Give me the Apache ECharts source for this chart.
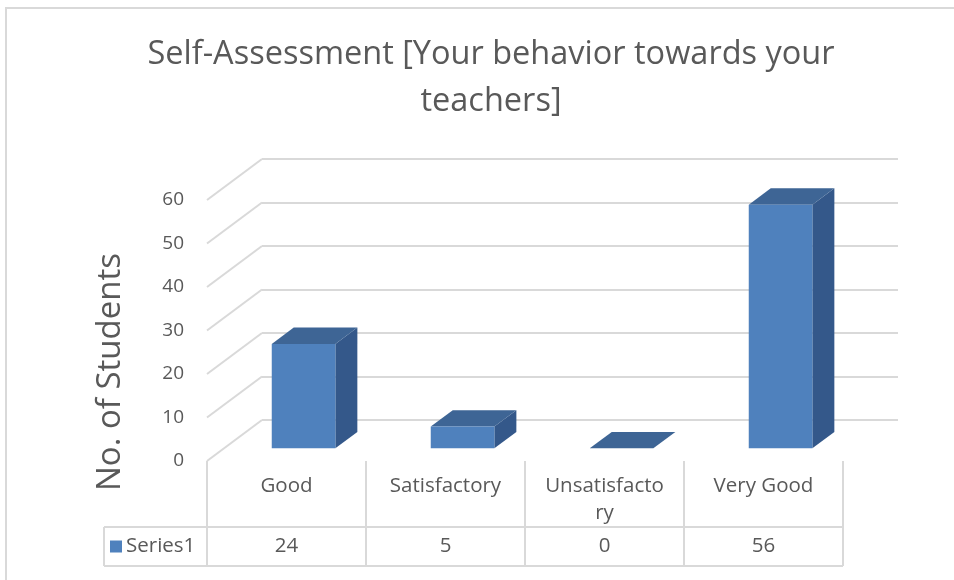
<!DOCTYPE html>
<html>
<head>
<meta charset="utf-8">
<script src="https://cdn.jsdelivr.net/npm/echarts@6/dist/echarts.min.js"></script>
<style>
  html, body { margin: 0; padding: 0; background: #fff; }
  #chart { width: 954px; height: 580px; }
</style>
</head>
<body>
<div id="chart"></div>
<script>
// chart values
var categories = ['Good', 'Satisfactory', 'Unsatisfactory', 'Very Good'];
var seriesName = 'Series1';
var values = [24, 5, 0, 56];
var yTicks = [0, 10, 20, 30, 40, 50, 60];

var TEXT = '#595959';
var LINE = '#d9d9d9';
var FONT = '"Open Sans", sans-serif';

// 3d look: depth of the floor and where the bar sits in it
var DEPTH_X = 55, DEPTH_Y = -41;
var BAR_FRONT = 0.31, BAR_DEPTH = 0.4, BAR_WIDTH = 0.4;

var myChart = echarts.init(document.getElementById('chart'));

function renderWallLines(params, api) {
    var p = api.coord([0, api.value(1)]);
    var x = params.coordSys.x;
    return {
        type: 'line',
        shape: { x1: x, y1: p[1], x2: x + DEPTH_X, y2: p[1] + DEPTH_Y },
        style: { stroke: LINE, lineWidth: 2 }
    };
}

function renderBar(params, api) {
    var base = api.coord([api.value(0), 0]);
    var top = api.coord([api.value(0), api.value(1)]);
    var w = api.size([1, 0])[0] * BAR_WIDTH;
    var fx = DEPTH_X * BAR_FRONT, fy = DEPTH_Y * BAR_FRONT;
    var bx = DEPTH_X * BAR_DEPTH, by = DEPTH_Y * BAR_DEPTH;
    var x0 = base[0] - w / 2 + fx, x1 = x0 + w;
    var yb = base[1] + fy, yt = top[1] + fy;
    return {
        type: 'group',
        children: [{
            type: 'polygon',
            shape: { points: [[x1, yt], [x1 + bx, yt + by], [x1 + bx, yb + by], [x1, yb]] },
            style: { fill: '#34588a' }
        }, {
            type: 'polygon',
            shape: { points: [[x0, yt], [x1, yt], [x1 + bx, yt + by], [x0 + bx, yt + by]] },
            style: { fill: '#3e6595' }
        }, {
            type: 'rect',
            shape: { x: x0, y: yt, width: w, height: yb - yt },
            style: { fill: '#4f81bd' }
        }]
    };
}

function renderTable(params, api) {
    var i = api.value(0);
    var c = api.coord([i, 0]);
    var colW = api.size([1, 0])[0];
    var left = c[0] - colW / 2, right = c[0] + colW / 2;
    var y0 = c[1], y1 = c[1] + 66, y2 = c[1] + 105;
    var name = categories[i];
    if (name.length > 12) {
        name = name.slice(0, 12) + '\n' + name.slice(12);
    }
    var ls = { stroke: LINE, lineWidth: 2 };
    var children = [
        { type: 'line', shape: { x1: left, y1: y0, x2: left, y2: y2 }, style: ls },
        { type: 'line', shape: { x1: left, y1: y1, x2: right, y2: y1 }, style: ls },
        { type: 'line', shape: { x1: left, y1: y2, x2: right, y2: y2 }, style: ls },
        {
            type: 'text',
            style: {
                x: c[0], y: y0 + 12, text: name, align: 'center', verticalAlign: 'top',
                fill: TEXT, font: '20.5px ' + FONT, lineHeight: 27
            }
        },
        {
            type: 'text',
            style: {
                x: c[0], y: (y1 + y2) / 2, text: String(api.value(1)), align: 'center', verticalAlign: 'middle',
                fill: TEXT, font: '20.5px ' + FONT
            }
        }
    ];
    if (i === categories.length - 1) {
        children.push({ type: 'line', shape: { x1: right, y1: y0, x2: right, y2: y2 }, style: ls });
    }
    if (i === 0) {
        var lx = left - 103;
        children.push(
            { type: 'line', shape: { x1: lx, y1: y1, x2: left, y2: y1 }, style: ls },
            { type: 'line', shape: { x1: lx, y1: y2, x2: left, y2: y2 }, style: ls },
            { type: 'line', shape: { x1: lx, y1: y1, x2: lx, y2: y2 }, style: ls },
            { type: 'rect', shape: { x: lx + 6, y: (y1 + y2) / 2 - 6, width: 12, height: 12 }, style: { fill: '#4f81bd' } },
            {
                type: 'text',
                style: {
                    x: lx + 22, y: (y1 + y2) / 2, text: seriesName, align: 'left', verticalAlign: 'middle',
                    fill: TEXT, font: '20.5px ' + FONT
                }
            }
        );
    }
    return { type: 'group', children: children };
}

var option = {
    animation: false,
    backgroundColor: '#fff',
    title: {
        text: 'Self-Assessment [Your behavior towards your\nteachers]',
        left: 486,
        top: 26,
        textAlign: 'center',
        textStyle: {
            color: TEXT, fontFamily: FONT, fontWeight: 'normal', fontSize: 32.5, lineHeight: 47
        }
    },
    graphic: [{
        type: 'rect',
        shape: { x: 6, y: 8, width: 1000, height: 1000 },
        style: { fill: 'none', stroke: LINE, lineWidth: 2 },
        silent: true
    }, {
        type: 'text',
        x: 111, y: 372, rotation: Math.PI / 2,
        style: {
            text: 'No. of Students', align: 'center', verticalAlign: 'middle',
            fill: TEXT, font: '33px ' + FONT
        }
    }],
    grid: [
        { left: 207, right: 111, top: 200, bottom: 119 },
        { left: 207 + DEPTH_X, right: 111 - DEPTH_X, top: 200 + DEPTH_Y, bottom: 119 - DEPTH_Y }
    ],
    xAxis: [
        { type: 'category', gridIndex: 0, data: categories, show: false },
        { type: 'category', gridIndex: 1, data: categories, show: false }
    ],
    yAxis: [{
        type: 'value', gridIndex: 0, min: 0, max: 60, interval: 10,
        axisLine: { show: false }, axisTick: { show: false }, splitLine: { show: false },
        axisLabel: { color: TEXT, fontFamily: FONT, fontSize: 19, margin: 23, padding: [6, 0, 0, 0] }
    }, {
        type: 'value', gridIndex: 1, min: 0, max: 60, interval: 10,
        axisLine: { show: false }, axisTick: { show: false }, axisLabel: { show: false },
        splitLine: { show: true, lineStyle: { color: LINE, width: 2 } }
    }],
    series: [{
        type: 'custom',
        name: 'walls',
        xAxisIndex: 0, yAxisIndex: 0,
        silent: true,
        renderItem: renderWallLines,
        data: yTicks.map(function (v) { return [0, v]; })
    }, {
        type: 'custom',
        name: 'table',
        xAxisIndex: 0, yAxisIndex: 0,
        silent: true,
        renderItem: renderTable,
        data: values.map(function (v, i) { return [i, v]; })
    }, {
        type: 'custom',
        name: seriesName,
        xAxisIndex: 0, yAxisIndex: 0,
        renderItem: renderBar,
        data: values.map(function (v, i) { return [i, v]; })
    }]
};

myChart.setOption(option);
</script>
</body>
</html>
